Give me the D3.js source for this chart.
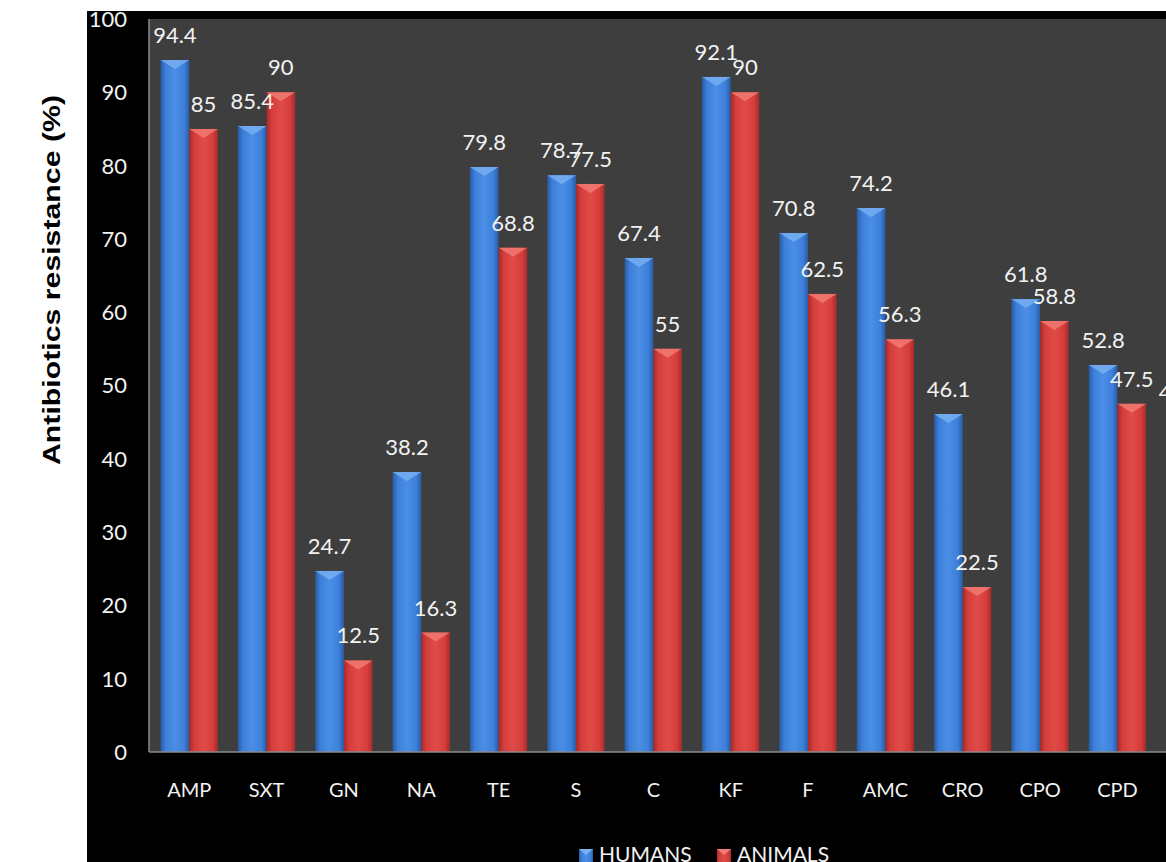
<!DOCTYPE html>
<html>
<head>
<meta charset="utf-8">
<script src="https://cdn.jsdelivr.net/npm/d3@7"></script>
<style>
  body{margin:0;background:#fff;}
  svg{display:block;}
  .tick-label,.cat-label,.val-label,.legend-label{font-family:Lato,"Open Sans",sans-serif;fill:#f2f2f2;}
</style>
</head>
<body>
<svg id="chart" width="1166" height="862"></svg>
<script>
//data
var categories = ['AMP','SXT','GN','NA','TE','S','C','KF','F','AMC','CRO','CPO','CPD','CTX'];
var humans  = [94.4, 85.4, 24.7, 38.2, 79.8, 78.7, 67.4, 92.1, 70.8, 74.2, 46.1, 61.8, 52.8, 45.7];
var animals = [85, 90, 12.5, 16.3, 68.8, 77.5, 55, 90, 62.5, 56.3, 22.5, 58.8, 47.5, null];
var seriesNames = ['HUMANS','ANIMALS'];
var yTicks = [0,10,20,30,40,50,60,70,80,90,100];

var colors = {
  HUMANS: {edge:'#2a5ba6', mid:'#3d80da', hi:'#4b8ee6', cap:'#79b0f2'},
  ANIMALS:{edge:'#a32c2c', mid:'#d53d3b', hi:'#e04b47', cap:'#f27d76'}
};

var svg = d3.select('#chart');
var plot = {l:149, t:19, r:1235, b:752};

//gradients for the cylinder look
var defs = svg.append('defs');
seriesNames.forEach(function(s){
  var g = defs.append('linearGradient').attr('id','grad-'+s)
      .attr('x1','0%').attr('x2','100%').attr('y1','0%').attr('y2','0%');
  g.append('stop').attr('offset','0%').attr('stop-color',colors[s].edge);
  g.append('stop').attr('offset','18%').attr('stop-color',colors[s].mid);
  g.append('stop').attr('offset','50%').attr('stop-color',colors[s].hi);
  g.append('stop').attr('offset','82%').attr('stop-color',colors[s].mid);
  g.append('stop').attr('offset','100%').attr('stop-color',colors[s].edge);
});

//black panel and plot area
svg.append('rect').attr('x',87).attr('y',11).attr('width',1166-87).attr('height',862-11).attr('fill','#000');
svg.append('rect').attr('x',plot.l).attr('y',plot.t).attr('width',1166-plot.l).attr('height',plot.b-plot.t).attr('fill','#3e3e3e');

//scales
var scaleY = d3.scaleLinear().domain([0,100]).range([plot.b, plot.t]);
var scaleX = d3.scaleBand().domain(categories).range([plot.l, plot.r])
    .paddingInner(0.26).paddingOuter(0.15);
var scaleS = d3.scaleBand().domain(seriesNames).range([0, scaleX.bandwidth()]);

//rows for the bars
var rows = [];
categories.forEach(function(c,i){
  rows.push({cat:c, series:'HUMANS', value:humans[i]});
  if(animals[i] != null) rows.push({cat:c, series:'ANIMALS', value:animals[i]});
});

var bars = svg.append('g').attr('class','bars');
var barG = bars.selectAll('.bar').data(rows).enter().append('g').attr('class','bar');
barG.append('rect')
    .attr('x',function(d){return scaleX(d.cat)+scaleS(d.series);})
    .attr('y',function(d){return scaleY(d.value);})
    .attr('width',scaleS.bandwidth())
    .attr('height',function(d){return scaleY(0)-scaleY(d.value);})
    .attr('fill',function(d){return 'url(#grad-'+d.series+')';});
//bevelled top
barG.append('polygon')
    .attr('points',function(d){
      var x0 = scaleX(d.cat)+scaleS(d.series), w = scaleS.bandwidth(), t = scaleY(d.value);
      return [[x0,t],[x0+w,t],[x0+w*0.5,t+9]].map(function(p){return p.join(',');}).join(' ');
    })
    .attr('fill',function(d){return colors[d.series].cap;})
    .attr('opacity',0.8);

//value labels
svg.append('g').selectAll('.val-label').data(rows).enter().append('text')
    .attr('class','val-label')
    .attr('x',function(d){return scaleX(d.cat)+scaleS(d.series)+scaleS.bandwidth()/2;})
    .attr('y',function(d){return scaleY(d.value)-17;})
    .attr('text-anchor','middle')
    .style('font-size','22px')
    .text(function(d){return d.value;});

//axis lines
svg.append('line').attr('x1',plot.l).attr('x2',1166).attr('y1',plot.b).attr('y2',plot.b)
    .style('stroke','#8a8a8a').style('stroke-width',1.5);
svg.append('line').attr('x1',plot.l).attr('x2',plot.l).attr('y1',plot.t).attr('y2',plot.b)
    .style('stroke','#8a8a8a').style('stroke-width',1.5);

//y tick labels
svg.append('g').selectAll('.tick-label').data(yTicks).enter().append('text')
    .attr('class','tick-label')
    .attr('x',127)
    .attr('y',function(d){return scaleY(d);})
    .attr('dy','0.36em')
    .attr('text-anchor','end')
    .style('font-size','22px')
    .text(function(d){return d;});

//category labels
svg.append('g').selectAll('.cat-label').data(categories).enter().append('text')
    .attr('class','cat-label')
    .attr('x',function(d){return scaleX(d)+scaleX.bandwidth()/2;})
    .attr('y',797)
    .attr('text-anchor','middle')
    .style('font-size','20px')
    .text(function(d){return d;});

//y title
svg.append('text')
    .attr('transform','translate(60,280) rotate(-90)')
    .attr('text-anchor','middle')
    .attr('textLength',370).attr('lengthAdjust','spacingAndGlyphs')
    .style('font-family','"Liberation Sans",Arial,sans-serif')
    .style('font-weight','bold').style('font-size','23px').style('fill','#000')
    .text('Antibiotics resistance (%)');

//legend
var legendX = [579, 717];
var legend = svg.append('g').selectAll('.legend').data(seriesNames).enter().append('g')
    .attr('transform',function(d,i){return 'translate('+legendX[i]+',849)';});
legend.append('rect').attr('width',14).attr('height',13)
    .attr('fill',function(d){return 'url(#grad-'+d+')';});
legend.append('polygon').attr('points','0,0 14,0 7,6')
    .attr('fill',function(d){return colors[d].cap;});
legend.append('text').attr('class','legend-label')
    .attr('x',20).attr('y',13)
    .style('font-size','21px')
    .text(function(d){return d;});
</script>
</body>
</html>
